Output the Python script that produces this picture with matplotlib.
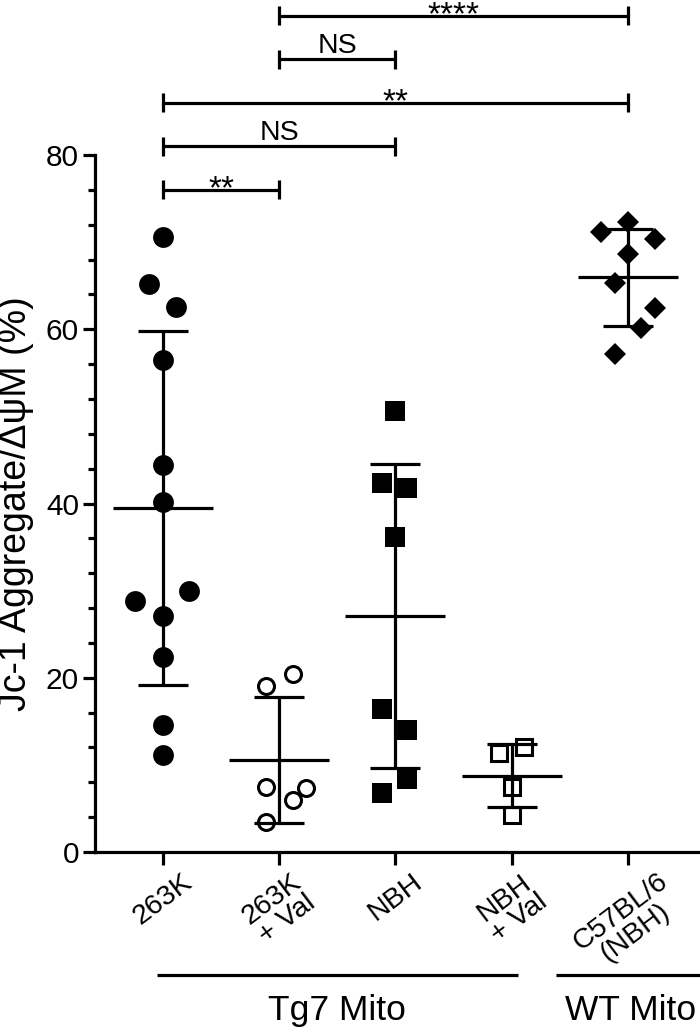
import numpy as np
import matplotlib
matplotlib.use('Agg')
import matplotlib.pyplot as plt

plt.rcParams['font.family'] = ['Liberation Sans', 'DejaVu Sans']

# groups on the x axis
groups = ['263K', '263K\n+ Val', 'NBH', 'NBH\n+ Val', 'C57BL/6\n(NBH)']

# individual values (%), with their horizontal jitter (category units)
v_263k = [70.6, 65.2, 62.6, 56.5, 44.4, 40.2, 30.0, 28.8, 27.1, 22.4, 14.6, 11.1]
j_263k = [0, -0.12, 0.11, 0, 0, 0, 0.22, -0.24, 0, 0, 0, 0]
v_263k_val = [19.0, 20.4, 7.5, 7.3, 6.0, 3.4]
j_263k_val = [-0.11, 0.12, -0.11, 0.23, 0.12, -0.11]
v_nbh = [50.6, 42.4, 41.8, 36.2, 16.4, 14.0, 8.4, 6.8]
j_nbh = [0, -0.12, 0.10, 0, -0.12, 0.10, 0.10, -0.12]
v_nbh_val = [11.4, 12.0, 7.5, 4.2]
j_nbh_val = [-0.11, 0.11, 0, 0]
v_c57 = [71.2, 72.3, 70.4, 68.6, 65.3, 62.5, 60.1, 57.2]
j_c57 = [-0.23, 0, 0.23, 0, -0.11, 0.23, 0.11, -0.11]

values = [v_263k, v_263k_val, v_nbh, v_nbh_val, v_c57]
jitter = [j_263k, j_263k_val, j_nbh, j_nbh_val, j_c57]
markers = ['o', 'o', 's', 's', 'D']
filled = [True, False, True, False, True]
sizes = [15, 11.5, 15, 11, 11]

# significance brackets: (group a, group b, height, label)
brackets = [(0, 1, 76, '**'), (0, 2, 81, 'NS'), (0, 4, 86, '**'),
            (1, 2, 91, 'NS'), (1, 4, 96, '****')]

LW = 2.3
fig = plt.figure(figsize=(7, 10.33), dpi=100)
ax = fig.add_axes([0.1357, 0.1752, 0.8643, 0.6747])

for i, (v, jit) in enumerate(zip(values, jitter)):
    v = np.array(v)
    m, sd = v.mean(), v.std(ddof=1)
    # mean line + SD whiskers
    ax.plot([i - 0.43, i + 0.43], [m, m], color='black', lw=LW, zorder=2, solid_capstyle='butt')
    ax.plot([i, i], [m - sd, m + sd], color='black', lw=LW, zorder=2, solid_capstyle='butt')
    for e in (m - sd, m + sd):
        ax.plot([i - 0.215, i + 0.215], [e, e], color='black', lw=LW, zorder=2, solid_capstyle='butt')
    x = i + np.array(jit)
    if filled[i]:
        ax.plot(x, v, ls='none', marker=markers[i], ms=sizes[i], mfc='black', mec='black', mew=0, zorder=3)
    else:
        ax.plot(x, v, ls='none', marker=markers[i], ms=sizes[i], mfc='none', mec='black', mew=2.2, zorder=3)

for a, b, y, lab in brackets:
    ax.plot([a, b], [y, y], color='black', lw=LW, clip_on=False, solid_capstyle='butt')
    for xx in (a, b):
        ax.plot([xx, xx], [y - 1.1, y + 1.1], color='black', lw=LW, clip_on=False, solid_capstyle='butt')
    if '*' in lab:
        ax.annotate(lab, xy=((a + b) / 2, y), xytext=(0, -6), textcoords='offset points',
                    ha='center', va='baseline', fontsize=24, annotation_clip=False)
    else:
        ax.annotate(lab, xy=((a + b) / 2, y), xytext=(0, 4.3), textcoords='offset points',
                    ha='center', va='baseline', fontsize=20.5, annotation_clip=False)

# group lines under the axis
ax.plot([-0.05, 3.05], [-14.1, -14.1], color='black', lw=LW, clip_on=False, solid_capstyle='butt')
ax.plot([3.38, 4.62], [-14.1, -14.1], color='black', lw=LW, clip_on=False, solid_capstyle='butt')
ax.text(1.5, -19.3, 'Tg7 Mito', ha='center', va='baseline', fontsize=25.5)
ax.text(4.02, -19.3, 'WT Mito', ha='center', va='baseline', fontsize=25.5)

ax.set_xlim(-0.585, 4.62)
ax.set_ylim(0, 80)
ax.set_xticks(range(len(groups)))
ax.set_xticklabels(groups, rotation=37, ha='center', va='top', fontsize=20.5,
                   multialignment='center', linespacing=0.95)
ax.set_yticks([0, 20, 40, 60, 80])
ax.set_yticks(np.arange(0, 81, 4), minor=True)
ax.tick_params(axis='y', which='major', length=8.6, width=LW, labelsize=21.5, pad=3)
ax.tick_params(axis='y', which='minor', length=5, width=LW)
ax.tick_params(axis='x', length=9, width=LW, pad=3)
ax.set_ylabel('Jc-1 Aggregate/\u0394\u03c8M (%)', fontsize=27)
ax.yaxis.set_label_coords(-0.1, 0.5)
for s in ('top', 'right'):
    ax.spines[s].set_visible(False)
for s in ('left', 'bottom'):
    ax.spines[s].set_linewidth(LW)

fig.savefig('out.png', dpi=100)
